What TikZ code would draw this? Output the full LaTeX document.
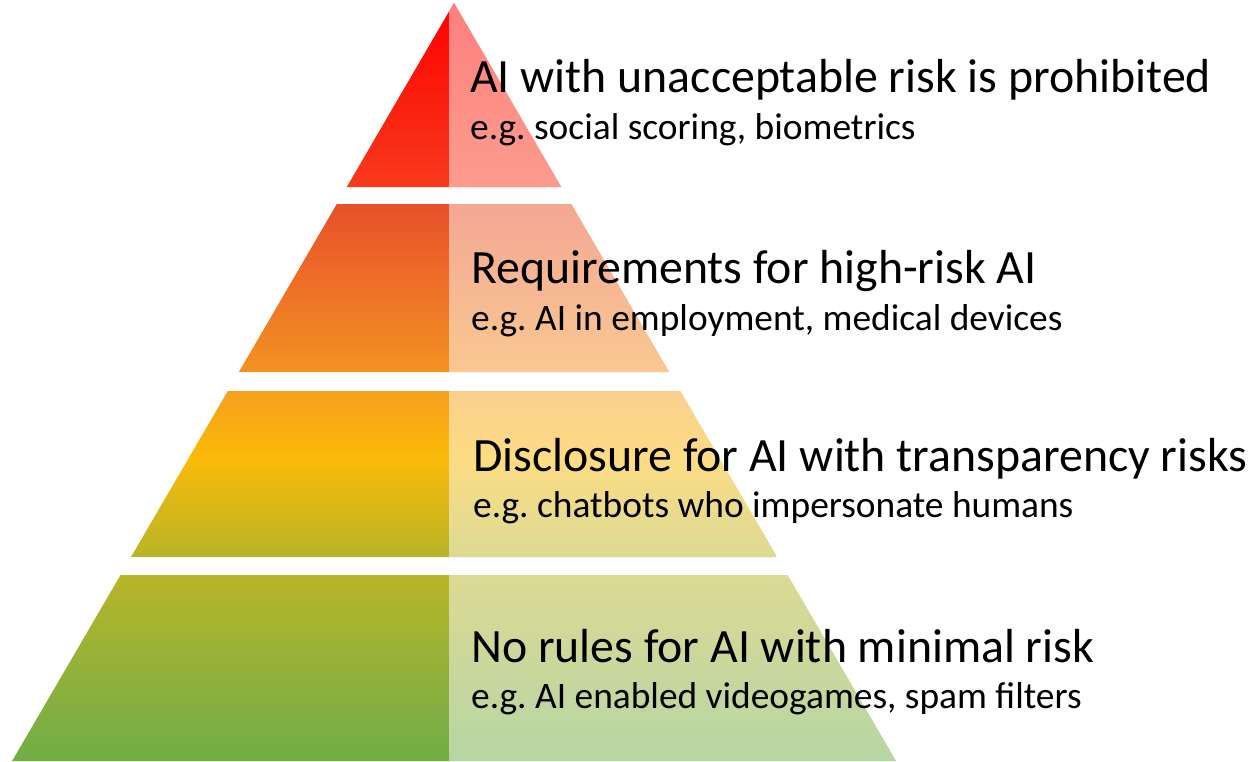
\documentclass[tikz,border=0pt]{standalone}
\usepackage{fontspec}
\setmainfont{Carlito}
\usepackage{tikz}
\usetikzlibrary{positioning}
\frenchspacing
\definecolor{redtop}{HTML}{FF0000}
\definecolor{redmid}{HTML}{FB1D0D}
\definecolor{redbot}{HTML}{F63A1C}
\definecolor{orangetop}{HTML}{E8502A}
\definecolor{orangemid}{HTML}{EE7127}
\definecolor{orangebot}{HTML}{F39222}
\definecolor{yellowtop}{HTML}{F5A01E}
\definecolor{yellowmid}{HTML}{FBBA08}
\definecolor{yellowbot}{HTML}{B8B528}
\definecolor{greentop}{HTML}{B9B527}
\definecolor{greenmid}{HTML}{93B13A}
\definecolor{greenbot}{HTML}{70AD47}
% path is fitted to 25bp..75bp of the shading
\pgfdeclareverticalshading{redfade}{100bp}{color(0bp)=(redbot); color(25bp)=(redbot); color(50bp)=(redmid); color(75bp)=(redtop); color(100bp)=(redtop)}
\pgfdeclareverticalshading{orangefade}{100bp}{color(0bp)=(orangebot); color(25bp)=(orangebot); color(50bp)=(orangemid); color(75bp)=(orangetop); color(100bp)=(orangetop)}
\pgfdeclareverticalshading{yellowfade}{100bp}{color(0bp)=(yellowbot); color(25bp)=(yellowbot); color(55bp)=(yellowmid); color(75bp)=(yellowtop); color(100bp)=(yellowtop)}
\pgfdeclareverticalshading{greenfade}{100bp}{color(0bp)=(greenbot); color(25bp)=(greenbot); color(50bp)=(greenmid); color(75bp)=(greentop); color(100bp)=(greentop)}
\tikzstyle{heading} = [anchor=base west,inner sep=0pt,font=\fontsize{47.8}{52}\selectfont]
\tikzstyle{example} = [anchor=base west,inner sep=0pt,font=\fontsize{37.4}{42}\selectfont]
\tikzstyle{veil} = [white,opacity=0.5]
% pyramid edge: x = 454 -/+ 0.583*(y-3)
\newcommand{\tier}[4]{
    \coordinate (#1-nw) at ({454-0.583*(#2-3)},#2);
    \coordinate (#1-ne) at ({454+0.583*(#2-3)},#2);
    \coordinate (#1-sw) at ({454-0.583*(#3-3)},#3);
    \coordinate (#1-se) at ({454+0.583*(#3-3)},#3);
    \shade[shading=#4] (#1-nw) -- (#1-ne) -- (#1-se) -- (#1-sw) -- cycle;
    \begin{scope}
        \clip (#1-nw) -- (#1-ne) -- (#1-se) -- (#1-sw) -- cycle;
        \fill[veil] (449,#2) rectangle (910,#3);
    \end{scope}
}
\begin{document}
\begin{tikzpicture}[x=1pt,y=-1pt]
    \useasboundingbox (0,0) rectangle (1255,761);

    \tier{ban}{3}{187}{redfade}
    \tier{high}{204}{372}{orangefade}
    \tier{open}{391}{557}{yellowfade}
    \tier{low}{575}{761}{greenfade}

    \node(ban) at (470,92) [heading] {AI with unacceptable risk is prohibited};
    \node(ban-ex) [example,below=47pt of ban.base west,anchor=base west] {e.g. social scoring, biometrics};

    \node(high) at (471,283) [heading] {Requirements for high-risk AI};
    \node(high-ex) [example,below=47pt of high.base west,anchor=base west] {e.g. AI in employment, medical devices};

    \node(open) at (473,471) [heading] {Disclosure for AI with transparency risks};
    \node(open-ex) [example,below=46pt of open.base west,anchor=base west] {e.g. chatbots who impersonate humans};

    \node(low) at (471,662) [heading] {No rules for AI with minimal risk};
    \node(low-ex) [example,below=46pt of low.base west,anchor=base west] {e.g. AI enabled videogames, spam filters};
\end{tikzpicture}
\end{document}
